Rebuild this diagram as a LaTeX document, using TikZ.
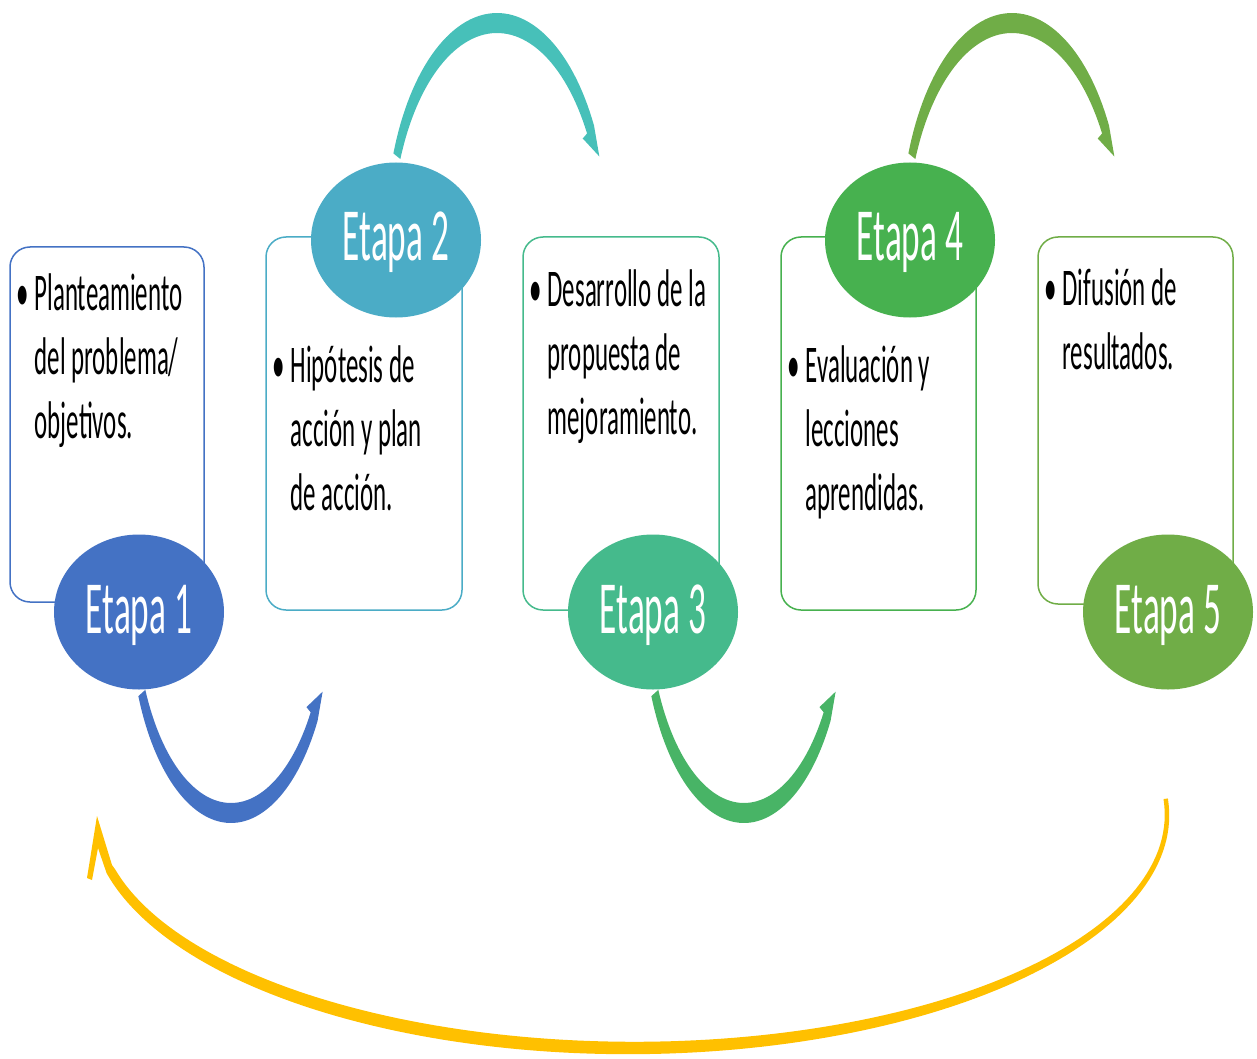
\documentclass[tikz,border=0pt]{standalone}
\usepackage{fontspec}
\newfontfamily\condfont{Carlito}[FakeStretch=0.47]
\usetikzlibrary{shapes.geometric}
\definecolor{cBlue}{HTML}{4472C4}
\definecolor{cTeal}{HTML}{4BACC6}
\definecolor{cSea}{HTML}{45BA8C}
\definecolor{cGreen}{HTML}{47B14F}
\definecolor{cLime}{HTML}{70AD47}
\definecolor{aTeal}{HTML}{47C0B9}
\definecolor{aGreen}{HTML}{48B466}
\definecolor{aYellow}{HTML}{FFC000}
% tapered circular arrow with half head: color, cx, cy, rx, ry, start angle, head base angle, tip angle, width expr
\newcommand\tarc[9]{%
  \fill[#1] plot[domain=#6:#7, samples=60, variable=\t]
      ({#2+(#4+0.25*(#9))*cos(\t)},{#3+(#5+0.5*(#9))*sin(\t)})
    -- ({#2+(#4+2)*cos(#8)},{#3+(#5+4)*sin(#8)})
    -- ({#2+(#4-9)*cos(#7)},{#3+(#5-18)*sin(#7)})
    -- plot[domain=#7:#6, samples=60, variable=\t]
      ({#2+(#4-0.25*(#9))*cos(\t)},{#3+(#5-0.5*(#9))*sin(\t)})
    -- cycle;}
\begin{document}
\begin{tikzpicture}[x=1pt,y=-1pt,
  box/.style={rounded corners=20pt, line width=1.5pt, fill=white, anchor=north west, inner sep=0pt, outer sep=0pt},
  stage/.style={ellipse, minimum width=170pt, minimum height=155pt, inner sep=0pt, outer sep=0pt},
  stagetext/.style={text=white, font=\condfont\fontsize{75}{80}\selectfont, anchor=base, inner sep=0pt},
  body/.style={font=\condfont\fontsize{53}{64}\selectfont, anchor=base west, inner sep=0pt, text=black}]
\useasboundingbox (0,0) rectangle (1257,1059);

% boxes
\node[box, draw=cBlue, minimum width=194pt, minimum height=355pt] (box1) at (10,247) {};
\node[box, draw=cTeal, minimum width=196pt, minimum height=373pt] (box2) at (266,237) {};
\node[box, draw=cSea,  minimum width=196pt, minimum height=373pt] (box3) at (523,237) {};
\node[box, draw=cGreen,minimum width=195pt, minimum height=373pt] (box4) at (781,237) {};
\node[box, draw=cLime, minimum width=195pt, minimum height=367pt] (box5) at (1038,237) {};

% texts
\node[body] (txt1) at (16,310) {\begin{tabular}[t]{@{}l@{\hspace{6pt}}l@{}}\textbullet & Planteamiento\\ & del problema/\\ & objetivos.\end{tabular}};
\node[body] (txt2) at (272,382) {\begin{tabular}[t]{@{}l@{\hspace{6pt}}l@{}}\textbullet & Hipótesis de\\ & acción y plan\\ & de acción.\end{tabular}};
\node[body] (txt3) at (529,306) {\begin{tabular}[t]{@{}l@{\hspace{6pt}}l@{}}\textbullet & Desarrollo de la\\ & propuesta de\\ & mejoramiento.\end{tabular}};
\node[body] (txt4) at (787,382) {\begin{tabular}[t]{@{}l@{\hspace{6pt}}l@{}}\textbullet & Evaluación y\\ & lecciones\\ & aprendidas.\end{tabular}};
\node[body] (txt5) at (1044,305) {\begin{tabular}[t]{@{}l@{\hspace{6pt}}l@{}}\textbullet & Difusión de\\ & resultados.\end{tabular}};

% stage ellipses
\node[stage, fill=cBlue]  (e1) at (139,612) {};
\node[stage, fill=cTeal]  (e2) at (396,240) {};
\node[stage, fill=cSea]   (e3) at (653,612) {};
\node[stage, fill=cGreen] (e4) at (910,240) {};
\node[stage, fill=cLime]  (e5) at (1168,612) {};
\node[stagetext] (l1) at (139,633) {Etapa 1};
\node[stagetext] (l2) at (396,261) {Etapa 2};
\node[stagetext] (l3) at (653,633) {Etapa 3};
\node[stagetext] (l4) at (910,261) {Etapa 4};
\node[stagetext] (l5) at (1168,633) {Etapa 5};

% circular arrows
\tarc{aTeal}{497}{236}{108}{213}{-158}{-30}{-21.5}{12+8*abs(sin(\t))}
\tarc{cLime}{1012}{236}{108}{213}{-158}{-30}{-21.5}{12+8*abs(sin(\t))}
\tarc{cBlue}{231}{608}{98}{205}{155.5}{32}{23.6}{12+8*abs(sin(\t))}
\tarc{aGreen}{744}{608}{98}{205}{155.5}{32}{23.6}{12+8*abs(sin(\t))}

% big return arrow
\fill[aYellow] plot[domain=-4:166, samples=120, variable=\t]
    ({631+(536+0.275*(8+8*(\t+4)/170))*cos(\t)},{815+(233+0.5*(8+8*(\t+4)/170))*sin(\t)})
  -- (98,848) -- (92,880) -- (87,878) -- (97,816) -- (112,865)
  -- plot[domain=166:-4, samples=120, variable=\t]
    ({631+(536-0.275*(8+8*(\t+4)/170))*cos(\t)},{815+(233-0.5*(8+8*(\t+4)/170))*sin(\t)})
  -- cycle;
\end{tikzpicture}
\end{document}
